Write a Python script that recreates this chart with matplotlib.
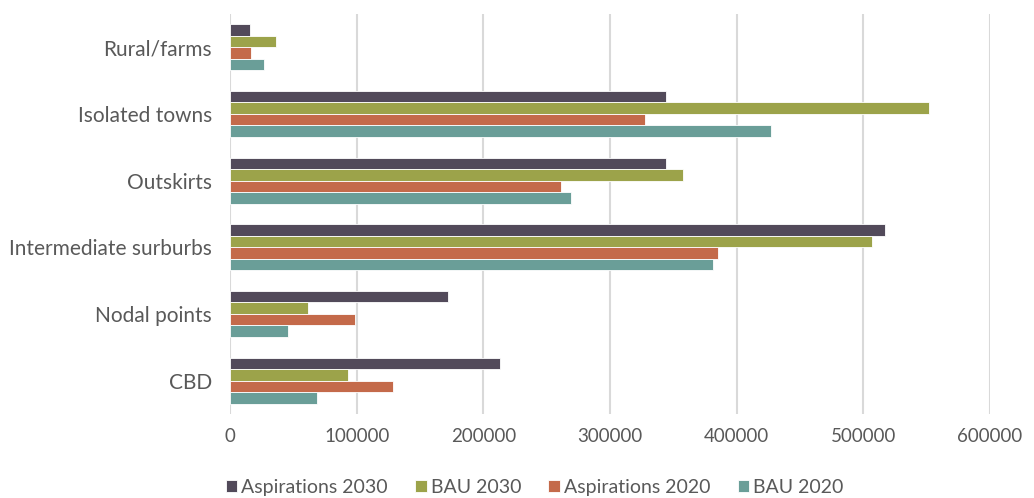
import numpy as np
import matplotlib
matplotlib.use("Agg")
import matplotlib.pyplot as plt

categories = ["Rural/farms", "Isolated towns", "Outskirts",
              "Intermediate surburbs", "Nodal points", "CBD"]
series_names = ["Aspirations 2030", "BAU 2030", "Aspirations 2020", "BAU 2020"]
aspirations_2030 = [16000, 344500, 344000, 517000, 172500, 213500]
bau_2030 = [36000, 552000, 358000, 507000, 62000, 93000]
aspirations_2020 = [17000, 327500, 261000, 385000, 99000, 128500]
bau_2020 = [26500, 427000, 269000, 381000, 46000, 69000]
x_ticks = [0, 100000, 200000, 300000, 400000, 500000, 600000]

colors = ["#524a5a", "#9ca34a", "#c46a4a", "#6a9e98"]
text_color = "#595959"

plt.rcParams["font.family"] = ["Lato", "DejaVu Sans"]

fig = plt.figure(figsize=(10.34, 4.98), dpi=100)
ax = fig.add_axes([0.2224, 0.1687, 0.735, 0.8033])

all_series = [aspirations_2030, bau_2030, aspirations_2020, bau_2020]
y = np.arange(len(categories))
bar_h = 0.1725
for i, (vals, name) in enumerate(zip(all_series, series_names)):
    offset = (i - 1.5) * bar_h
    ax.barh(y + offset, vals, height=bar_h, color=colors[i], label=name,
            edgecolor="white", linewidth=0.6, zorder=3)

ax.set_ylim(len(categories) - 0.5, -0.5)
ax.set_xlim(0, 600000)
ax.set_xticks(x_ticks)
ax.set_xticklabels([str(t) for t in x_ticks], fontsize=13.5, color=text_color)
ax.set_yticks(y)
ax.set_yticklabels(categories, fontsize=15, color=text_color)
ax.tick_params(axis="both", length=0)
ax.tick_params(axis="y", pad=13)
ax.tick_params(axis="x", pad=10)
for s in ax.spines.values():
    s.set_visible(False)
ax.xaxis.grid(True, color="#d9d9d9", linewidth=1.5, zorder=0)
ax.set_axisbelow(True)

fig.legend(loc="center", bbox_to_anchor=(0.517, 0.022), ncol=4, frameon=False,
           fontsize=14, handlelength=0.6, handleheight=0.6,
           handletextpad=0.2, columnspacing=1.4, labelcolor=text_color)

fig.savefig("out.png", dpi=100)
